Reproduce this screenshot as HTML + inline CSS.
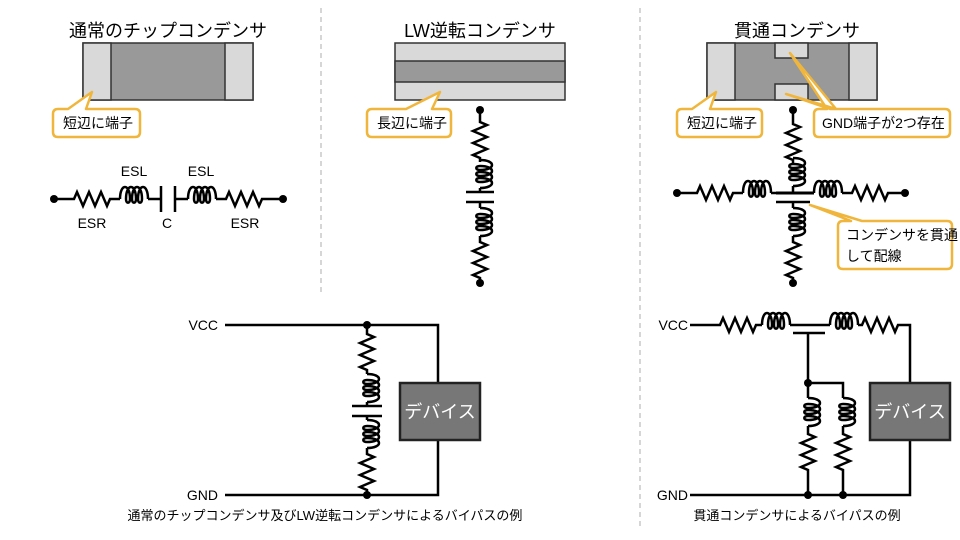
<!DOCTYPE html>
<html><head><meta charset="utf-8"><style>
html,body{margin:0;padding:0;background:#fff;width:960px;height:540px;overflow:hidden}
text{font-family:"Liberation Sans","Noto Sans CJK JP",sans-serif}
</style></head><body>
<svg width="960" height="540" viewBox="0 0 960 540" xmlns="http://www.w3.org/2000/svg">
<defs>
<path id="rh" d="M0,0 h4 l3,-7 l6,14 l6,-14 l6,14 l6,-14 l6,14 l3,-7 h4" fill="none" stroke="#000" stroke-width="2.5" stroke-linejoin="miter"/>
<path id="lh" d="M0,0 c0,-16 10,-16 10,0 c0,5 -4,5 -4,0 c0,-16 10,-16 10,0 c0,5 -4,5 -4,0 c0,-16 10,-16 10,0 c0,5 -4,5 -4,0 c0,-16 10,-16 10,0" fill="none" stroke="#000" stroke-width="2.5"/>
</defs>
<g stroke="#bbb" stroke-width="1.2" stroke-dasharray="5,4">
<line x1="321" y1="8" x2="321" y2="296"/><line x1="640" y1="8" x2="640" y2="530"/>
</g>
<g font-size="18" text-anchor="middle" fill="#000">
<text x="168" y="37">通常のチップコンデンサ</text>
<text x="480" y="37">LW逆転コンデンサ</text>
<text x="797" y="37">貫通コンデンサ</text>
</g>
<g stroke="#333" stroke-width="1.5">
<rect x="83" y="43" width="170" height="57" fill="#999"/>
<rect x="83" y="43" width="28" height="57" fill="#d9d9d9"/>
<rect x="225" y="43" width="28" height="57" fill="#d9d9d9"/>
<rect x="395" y="43" width="170" height="57" fill="#d9d9d9"/>
<rect x="395" y="61" width="170" height="21" fill="#999"/>
<rect x="707" y="43" width="170" height="57" fill="#999"/>
<rect x="707" y="43" width="28" height="57" fill="#d9d9d9"/>
<rect x="849" y="43" width="28" height="57" fill="#d9d9d9"/>
<path d="M775,43 v15 h33 v-15 z M775,100 v-16 h33 v16 z" fill="#d9d9d9"/>
</g>
<g fill="#fff" stroke="#f0b63c" stroke-width="2.5" stroke-linejoin="round">
<path d="M58,109 h10 L92,92 L86,109 h49 q5,0 5,5 v18 q0,5 -5,5 h-77 q-5,0 -5,-5 v-18 q0,-5 5,-5 z"/>
<path d="M372,109 h34 L440,92 L432,109 h14 q5,0 5,5 v18 q0,5 -5,5 h-74 q-5,0 -5,-5 v-18 q0,-5 5,-5 z"/>
<path d="M682,109 h10 L716,92 L710,109 h47 q5,0 5,5 v18 q0,5 -5,5 h-75 q-5,0 -5,-5 v-18 q0,-5 5,-5 z"/>
<path d="M819,109 h8 L790,53 L836,109 L786,94 L830,109 h115 q5,0 5,5 v18 q0,5 -5,5 h-126 q-5,0 -5,-5 v-18 q0,-5 5,-5 z"/>
<path d="M843,221 h8 L810,205 L862,221 h85 q5,0 5,5 v38 q0,5 -5,5 h-104 q-5,0 -5,-5 v-38 q0,-5 5,-5 z"/>
</g>
<g font-size="14" fill="#000">
<text x="63" y="128">短辺に端子</text>
<text x="377" y="128">長辺に端子</text>
<text x="687" y="128">短辺に端子</text>
<text x="822" y="128">GND端子が2つ存在</text>
<text x="846" y="240">コンデンサを貫通</text>
<text x="846" y="261">して配線</text>
</g>
<g font-size="14" text-anchor="middle">
<text x="134" y="176">ESL</text><text x="201" y="176">ESL</text>
<text x="92" y="228">ESR</text><text x="167" y="228">C</text><text x="245" y="228">ESR</text>
</g>
<g stroke="#000" stroke-width="2.5" fill="none">
<path d="M54,199 H70 M114,199 H120 M148,199 H161 M161,186 V212 M175,186 V212 M175,199 H188 M216,199 H222 M266,199 H283"/>
<use href="#rh" x="70" y="199"/><use href="#lh" x="120" y="199"/>
<use href="#lh" x="188" y="199"/><use href="#rh" x="222" y="199"/>
<path d="M480,110 V118 M480,188 V192 M466,192 H494 M466,202 H494 M480,202 V208 M480,236 V238 M480,282 V283"/>
<use href="#rh" transform="translate(480,118) rotate(90)"/>
<use href="#lh" transform="translate(480,160) rotate(90)"/>
<use href="#lh" transform="translate(480,208) rotate(90)"/>
<use href="#rh" transform="translate(480,238) rotate(90)"/>
<path d="M677,193 H693 M737,193 H743 M771,193 H776 M842,193 H848 M892,193 H905 M776,202 H810 M793,110 V120 M793,186 V193 M793,202 V208 M793,236 V238 M793,282 V283"/>
<path d="M776,193 H814" stroke-width="3"/>
<use href="#rh" x="693" y="193"/><use href="#lh" x="743" y="193"/>
<use href="#lh" x="814" y="193"/><use href="#rh" x="848" y="193"/>
<use href="#rh" transform="translate(793,120) rotate(90)"/>
<use href="#lh" transform="translate(793,158) rotate(90)"/>
<use href="#lh" transform="translate(793,208) rotate(90)"/>
<use href="#rh" transform="translate(793,238) rotate(90)"/>
<path d="M225,325 H438 V383 M438,440 V495 H225 M367,325 V330 M367,402 V406 M352,406 H382 M352,416 H382 M367,416 V420 M367,448 V450 M367,494 V495"/>
<use href="#rh" transform="translate(367,330) rotate(90)"/>
<use href="#lh" transform="translate(367,374) rotate(90)"/>
<use href="#lh" transform="translate(367,420) rotate(90)"/>
<use href="#rh" transform="translate(367,450) rotate(90)"/>
<path d="M690,325 H716 M760,325 H762 M790,325 H830 M902,325 H910 V383 M910,440 V495 H690 M793,333 H825 M808,333 V383 H843 V398 M808,383 V398 M808,426 V430 M843,426 V430 M808,474 V495 M843,474 V495"/>
<use href="#rh" x="716" y="325"/><use href="#lh" x="762" y="325"/>
<use href="#lh" x="830" y="325"/><use href="#rh" x="858" y="325"/>
<use href="#lh" transform="translate(808,398) rotate(90)"/>
<use href="#rh" transform="translate(808,430) rotate(90)"/>
<use href="#lh" transform="translate(843,398) rotate(90)"/>
<use href="#rh" transform="translate(843,430) rotate(90)"/>
</g>
<g fill="#000">
<circle cx="54" cy="199" r="4"/><circle cx="283" cy="199" r="4"/>
<circle cx="480" cy="110" r="4"/><circle cx="480" cy="283" r="4"/>
<circle cx="677" cy="193" r="4"/><circle cx="905" cy="193" r="4"/>
<circle cx="793" cy="110" r="4"/><circle cx="793" cy="283" r="4"/>
<circle cx="367" cy="325" r="4"/><circle cx="367" cy="495" r="4"/>
<circle cx="808" cy="383" r="4"/><circle cx="808" cy="495" r="4"/><circle cx="843" cy="495" r="4"/>
</g>
<rect x="400" y="383" width="80" height="57" fill="#777" stroke="#222" stroke-width="2.5"/>
<rect x="870" y="383" width="80" height="57" fill="#777" stroke="#222" stroke-width="2.5"/>
<g font-size="18" fill="#fff" text-anchor="middle">
<text x="440" y="418">デバイス</text><text x="910" y="418">デバイス</text>
</g>
<g font-size="14" fill="#000" text-anchor="end">
<text x="218" y="330">VCC</text><text x="218" y="500">GND</text>
<text x="688" y="330">VCC</text><text x="688" y="500">GND</text>
</g>
<g font-size="13" fill="#000" text-anchor="middle">
<text x="325" y="520">通常のチップコンデンサ及びLW逆転コンデンサによるバイパスの例</text>
<text x="797" y="520">貫通コンデンサによるバイパスの例</text>
</g>
</svg>
</body></html>
